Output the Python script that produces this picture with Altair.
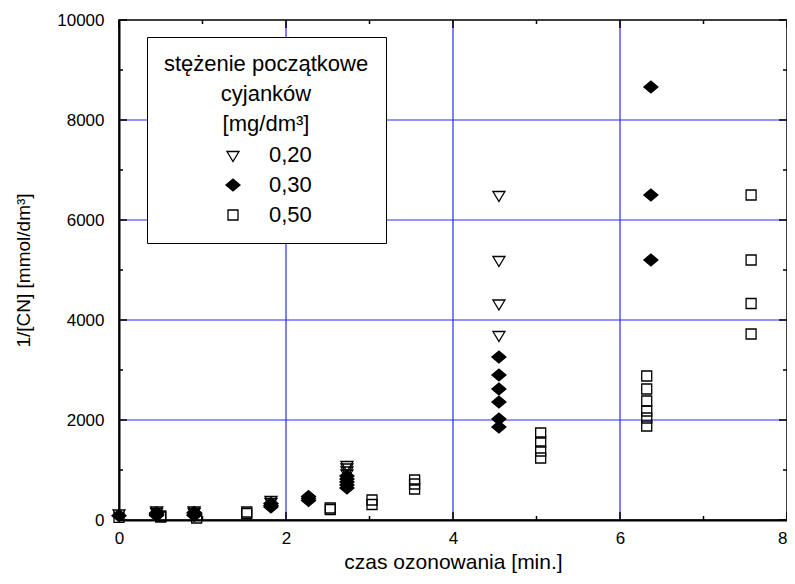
import altair as alt
import pandas as pd

# ---- data ----
conc_labels = ["0,20", "0,30", "0,50"]

t_020 = [0.0, 0.45, 0.45, 0.9, 0.9, 1.82, 1.82, 2.73, 2.73, 2.73, 2.73, 4.55, 4.55, 4.55, 4.55]
v_020 = [130, 190, 160, 190, 160, 400, 360, 1100, 1050, 990, 930, 6500, 5200, 4330, 3700]

t_030 = [0.0, 0.45, 0.45, 0.45, 0.9, 0.9, 0.9, 1.82, 1.82, 1.82, 2.27, 2.27, 2.27,
         2.73, 2.73, 2.73, 2.73, 2.73, 4.55, 4.55, 4.55, 4.55, 4.55, 4.55, 6.37, 6.37, 6.37]
v_030 = [87, 140, 110, 90, 150, 120, 90, 330, 290, 260, 470, 430, 390,
         880, 820, 760, 700, 640, 3260, 2900, 2620, 2360, 2020, 1860, 8660, 6500, 5200]

t_050 = [0.0, 0.5, 0.5, 0.93, 1.53, 1.53, 2.53, 2.53, 3.03, 3.03, 3.54, 3.54, 3.54,
         5.05, 5.05, 5.05, 5.05, 6.32, 6.32, 6.32, 6.32, 6.32, 6.32, 7.57, 7.57, 7.57, 7.57]
v_050 = [52, 80, 60, 40, 160, 130, 240, 210, 400, 310, 800, 720, 620,
         1740, 1560, 1380, 1240, 2880, 2620, 2380, 2180, 2040, 1880, 6500, 5200, 4330, 3720]

x_major = [0, 2, 4, 6, 8]
x_minor = [1, 3, 5, 7]
y_major = [0, 2000, 4000, 6000, 8000, 10000]
y_minor = [1000, 3000, 5000, 7000, 9000]
x_grid = [2, 4, 6]
y_grid = [2000, 4000, 6000, 8000]

rows = []
for lab, ts, vs in zip(conc_labels, [t_020, t_030, t_050], [v_020, v_030, v_050]):
    for t, v in zip(ts, vs):
        rows.append({"t": t, "v": v, "c": lab})
df = pd.DataFrame(rows)

W, H = 668, 500
FONT = "Liberation Sans"
xs = alt.Scale(domain=[0, 8], nice=False, zero=False)
ys = alt.Scale(domain=[0, 10000], nice=False, zero=False)

# marker outlines (unit box, scaled by the common symbol size)
TRI_DOWN = "M-0.857,-0.5L0.857,-0.5L0,0.93Z"
DIAMOND = "M-1,0L0,-0.857L1,0L0,0.857Z"
SQUARE = "M-0.714,-0.714H0.714V0.714H-0.714Z"
SYM_SIZE = 196

X_AX = alt.Axis(
    values=x_major, format="d", grid=False, ticks=False, tickSize=0, labelFlush=False,
    labelAlign={"condition": {"test": "datum.value >= 8", "value": "right"}, "value": "center"},
    domainColor="black", domainWidth=2,
    labelFont=FONT, labelFontSize=17, labelColor="black", labelPadding=10,
    title="czas ozonowania [min.]", titleFont=FONT, titleFontSize=21,
    titleFontWeight="normal", titleColor="black",
    titleX=W / 2, titleY=42, titleBaseline="middle", titleAlign="center")
Y_AX = alt.Axis(
    values=y_major, format="d", grid=False, ticks=False, tickSize=0, labelFlush=False,
    domainColor="black", domainWidth=2,
    labelFont=FONT, labelFontSize=17, labelColor="black", labelPadding=15,
    title="1/[CN]  [mmol/dm³]", titleFont=FONT, titleFontSize=19,
    titleFontWeight="normal", titleColor="black",
    titleX=-96, titleY=250, titleAngle=270, titleBaseline="middle", titleAlign="center")

def X(f="t"):
    return alt.X(f + ":Q", scale=xs, axis=X_AX)

def Y(f="v"):
    return alt.Y(f + ":Q", scale=ys, axis=Y_AX)

grid_col = "#2b2bff"
gx = alt.Chart(pd.DataFrame({"t": x_grid})).mark_rule(color=grid_col, strokeWidth=1.2).encode(x=X())
gy = alt.Chart(pd.DataFrame({"v": y_grid})).mark_rule(color=grid_col, strokeWidth=1.2).encode(y=Y())

leg = alt.Legend(
    orient="none", legendX=28, legendY=17,
    title=["stężenie początkowe", "cyjanków", "[mg/dm³]"],
    titleFont=FONT, titleFontSize=22, titleFontWeight="normal", titleColor="black",
    titleAlign="center", titleAnchor="middle", titleLineHeight=30, titlePadding=8,
    titleLimit=0, labelLimit=0,
    labelFont=FONT, labelFontSize=22, labelColor="black", labelOffset=25,
    symbolOffset=1, rowPadding=8, padding=17, symbolSize=SYM_SIZE,
    strokeColor="black", fillColor="white",
    symbolOpacity=1, symbolStrokeColor="black", symbolStrokeWidth=1.3,
)

pts = alt.Chart(df).mark_point(opacity=1, stroke="black", strokeWidth=1.3, size=SYM_SIZE).encode(
    x=X(), y=Y(),
    shape=alt.Shape("c:N", scale=alt.Scale(domain=conc_labels,
                    range=[TRI_DOWN, DIAMOND, SQUARE]), legend=leg),
    fill=alt.Fill("c:N", scale=alt.Scale(domain=conc_labels,
                  range=["transparent", "black", "transparent"]), legend=leg),
    stroke=alt.Stroke("c:N", scale=alt.Scale(domain=conc_labels,
                      range=["black", "black", "black"]), legend=leg),
)

tk = dict(color="black", strokeWidth=1.5)
bx_major = alt.Chart(pd.DataFrame({"t": x_major})).mark_rule(**tk).encode(
    x=X(), y=alt.value(H), y2=alt.value(H - 8))
bx_minor = alt.Chart(pd.DataFrame({"t": x_minor})).mark_rule(**tk).encode(
    x=X(), y=alt.value(H), y2=alt.value(H - 4))
tx_major = alt.Chart(pd.DataFrame({"t": x_major})).mark_rule(**tk).encode(
    x=X(), y=alt.value(0), y2=alt.value(8))
tx_minor = alt.Chart(pd.DataFrame({"t": x_minor})).mark_rule(**tk).encode(
    x=X(), y=alt.value(0), y2=alt.value(4))
ly_major = alt.Chart(pd.DataFrame({"v": y_major})).mark_rule(**tk).encode(
    y=Y(), x=alt.value(0), x2=alt.value(8))
ly_minor = alt.Chart(pd.DataFrame({"v": y_minor})).mark_rule(**tk).encode(
    y=Y(), x=alt.value(0), x2=alt.value(4))
ry_major = alt.Chart(pd.DataFrame({"v": y_major})).mark_rule(**tk).encode(
    y=Y(), x=alt.value(W), x2=alt.value(W - 8))
ry_minor = alt.Chart(pd.DataFrame({"v": y_minor})).mark_rule(**tk).encode(
    y=Y(), x=alt.value(W), x2=alt.value(W - 4))

chart = alt.layer(
    gx, gy, pts, bx_major, bx_minor, tx_major, tx_minor, ly_major, ly_minor, ry_major, ry_minor
).properties(
    width=W, height=H,
    autosize=alt.AutoSizeParams(type="none"),
    padding={"left": 111, "top": 12, "right": 0, "bottom": 56},
    background="white",
).configure_view(stroke="black", strokeWidth=1.5).configure_axis(labelFont=FONT, titleFont=FONT)

chart.save("out.html", embed_options={"renderer": "svg", "actions": False})
